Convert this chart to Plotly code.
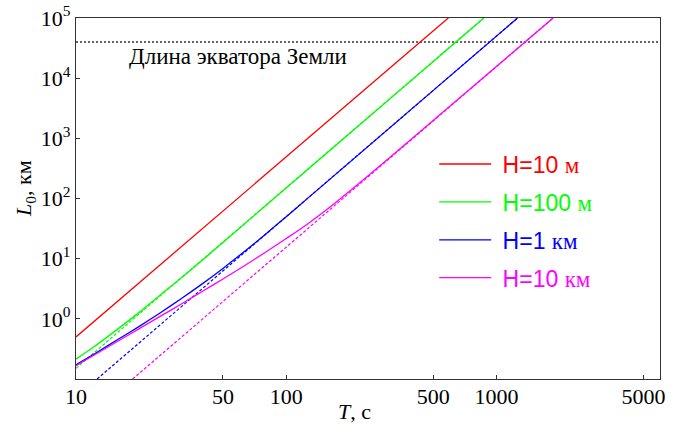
import plotly.graph_objects as go

# ---- data ----
T_H10m = [10, 590]
L_H10m = [0.5, 1e5]

T_H100m = [10, 12, 15, 20, 25, 30, 40, 50, 871]
L_H100m = [0.214, 0.33, 0.59, 1.28, 2.45, 4.1, 9.5, 18.6, 1e5]
T_H100m_asym = [10, 871]
L_H100m_asym = [0.151, 1e5]

T_H1km = [10, 12.6, 15.8, 20, 25, 32, 40, 50, 63, 80, 100, 126, 1260]
L_H1km = [0.172, 0.278, 0.453, 0.75, 1.24, 2.22, 3.85, 6.89, 13.0, 25.8, 49.8, 99.5, 1e5]
T_H1km_asym = [12.6, 1260]
L_H1km_asym = [0.1, 1e5]

T_H10km = [10, 15, 20, 25, 32, 40, 50, 63, 80, 100, 125, 160, 200, 250, 320, 1860]
L_H10km = [0.166, 0.381, 0.687, 1.087, 1.80, 2.88, 4.60, 7.55, 12.9, 21.6, 36.7,
           70, 132, 252, 522, 1e5]
T_H10km_asym = [18.6, 1860]
L_H10km_asym = [0.1, 1e5]

equator_T = [10, 6000]
equator_L = [40000, 40000]
equator_label = "Длина экватора Земли"

x_ticks = [10, 50, 100, 500, 1000, 5000]
x_ticktext = ["10", "50", "100", "500", "1000", "5000"]
y_ticks = [1, 10, 100, 1000, 10000, 100000]
y_ticktext = ["10<sup>0</sup>", "10<sup>1</sup>", "10<sup>2</sup>",
              "10<sup>3</sup>", "10<sup>4</sup>", "10<sup>5</sup>"]

RED, GREEN, BLUE, MAGENTA = "#FF0000", "#00FF00", "#0000FF", "#FF00FF"
SERIF = "Liberation Serif"
SANS = "Liberation Sans"


def lname(num, unit, color):
    return (f'<span style="color:{color}">&nbsp;{num} </span>'
            f'<span style="font-family:{SERIF};color:{color}">{unit}</span>')


fig = go.Figure()

# equator line
fig.add_trace(go.Scatter(x=equator_T, y=equator_L, mode="lines",
                         line=dict(color="#333333", width=1.5, dash="2px,2px"),
                         showlegend=False, hoverinfo="skip"))

# asymptotes (dashed)
for tx, ly, c in [(T_H100m_asym, L_H100m_asym, GREEN),
                  (T_H1km_asym, L_H1km_asym, BLUE),
                  (T_H10km_asym, L_H10km_asym, MAGENTA)]:
    fig.add_trace(go.Scatter(x=tx, y=ly, mode="lines",
                             line=dict(color=c, width=1.2, dash="3px,2px"),
                             showlegend=False, hoverinfo="skip"))

# solid curves
for i, (tx, ly, c, num, unit) in enumerate([
        (T_H10m, L_H10m, RED, "H=10", "м"),
        (T_H100m, L_H100m, GREEN, "H=100", "м"),
        (T_H1km, L_H1km, BLUE, "H=1", "км"),
        (T_H10km, L_H10km, MAGENTA, "H=10", "км")]):
    fig.add_trace(go.Scatter(x=tx, y=ly, mode="lines",
                             line=dict(color=c, width=1.3, shape="spline", smoothing=0.6),
                             name=lname(num, unit, c), legendgroup=f"g{i}"))

fig.add_annotation(x=(127 - 76) / 584, y=(379 - 57) / 361, xref="paper", yref="paper",
                   text=equator_label, showarrow=False, xanchor="left", yanchor="middle",
                   font=dict(family=SERIF, size=23, color="black"))

# axis titles
fig.add_annotation(x=(354 - 76) / 584, y=(379 - 411) / 361, xref="paper", yref="paper",
                   text="<i>T</i>, с", showarrow=False, xanchor="center", yanchor="middle",
                   font=dict(family=SERIF, size=22, color="black"))
fig.add_annotation(x=(25 - 76) / 584, y=(379 - 189) / 361, xref="paper", yref="paper",
                   text="<i>L</i><sub>0</sub>, км", showarrow=False, textangle=-90,
                   xanchor="center", yanchor="middle",
                   font=dict(family=SERIF, size=22, color="black"))

axis_common = dict(type="log", showgrid=False, zeroline=False, mirror=True,
                   showline=True, linecolor="#333333", linewidth=1.2,
                   ticks="inside", ticklen=4, tickcolor="#333333", automargin=False,
                   tickfont=dict(family=SERIF, size=22, color="black"))

fig.update_layout(
    width=680, height=434,
    margin=dict(l=76, r=20, t=18, b=55),
    paper_bgcolor="white", plot_bgcolor="white",
    xaxis=dict(range=[1, 3.778], tickvals=x_ticks, ticktext=x_ticktext,
               ticklabelstandoff=-3, **axis_common),
    yaxis=dict(range=[-1, 5], tickvals=y_ticks, ticktext=y_ticktext, **axis_common),
    legend=dict(x=0.6134, y=0.655, xanchor="left", yanchor="top",
                font=dict(family=SANS, size=23), bgcolor="rgba(0,0,0,0)",
                itemwidth=52, tracegroupgap=5),
)

fig.write_html("out.html")
